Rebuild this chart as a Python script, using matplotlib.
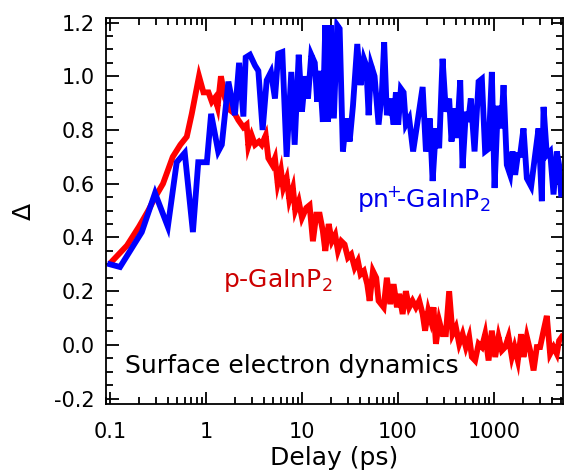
import matplotlib
matplotlib.use("Agg")
import matplotlib.pyplot as plt
import numpy as np
from matplotlib.ticker import FixedLocator, FixedFormatter, MultipleLocator, LogLocator, NullFormatter

plt.rcParams['font.family'] = ['DejaVu Sans']
plt.rcParams['axes.unicode_minus'] = False
plt.rcParams['mathtext.fontset'] = 'dejavusans'

# pn+-GaInP2 (blue), delay in ps and signal
delay_pn = [0.10, 0.127, 0.214, 0.294, 0.40, 0.495, 0.60, 0.73, 0.83, 1.02,
            1.13, 1.34, 1.46, 1.71, 2.0, 2.21, 2.45, 2.59, 2.87, 3.24,
            3.51, 3.89, 4.29, 4.75, 5.23, 5.66, 6.24, 6.92, 7.74, 8.39,
            9.25, 10.0, 10.8, 11.55, 12.5, 13.6, 14.4, 15.3, 16.5, 17.5,
            18.7, 19.9, 21.5, 23.3, 24.7, 26.7, 28.9, 31.4, 34.0, 37.7,
            40.8, 44.2, 46.8, 49.5, 52.7, 57.1, 62.9, 68.1, 71.9, 76.7,
            83.2, 90.2, 95.3, 100.7, 107.4, 114.6, 121, 131, 144, 160,
            181, 196, 215, 230, 249, 269, 292, 316, 342, 362,
            386, 412, 446, 472, 511, 540, 575, 629, 693, 750,
            811, 881, 953, 1017, 1101, 1192, 1262, 1365, 1479, 1567,
            1667, 1778, 1879, 2037, 2207, 2447, 2692, 2924, 3162, 3296,
            3565, 3855, 4188, 4530, 4786, 5023]
signal_pn = [0.30, 0.29, 0.42, 0.565, 0.44, 0.68, 0.715, 0.42, 0.68, 0.68,
             0.86, 0.72, 0.745, 0.98, 0.855, 1.05, 0.85, 1.07, 1.08, 1.04,
             1.02, 0.80, 0.985, 1.016, 0.917, 1.084, 1.09, 0.70, 1.016, 0.745,
             1.08, 0.868, 1.0, 0.917, 1.08, 1.05, 0.905, 1.02, 0.83, 1.19,
             0.83, 1.19, 0.843, 1.19, 1.177, 0.72, 0.843, 0.757, 0.89, 1.12,
             0.967, 1.065, 1.04, 0.855, 1.04, 1.0, 0.82, 0.94, 1.127, 0.855,
             0.917, 0.82, 0.94, 0.82, 0.954, 0.94, 0.82, 0.843, 0.72, 0.83,
             0.96, 0.72, 0.843, 0.61, 0.806, 0.732, 1.065, 0.868, 0.917, 0.757,
             0.88, 0.77, 0.985, 0.658, 0.868, 0.83, 0.917, 0.72, 0.98, 0.99,
             0.72, 0.73, 1.016, 0.584, 0.89, 0.806, 0.967, 0.67, 0.633, 0.72,
             0.633, 0.707, 0.707, 0.806, 0.62, 0.59, 0.707, 0.806, 0.535, 0.886,
             0.707, 0.72, 0.56, 0.72, 0.67, 0.56]

# p-GaInP2 (red)
delay_p = [0.104, 0.15, 0.20, 0.25, 0.295, 0.356, 0.45, 0.54, 0.63, 0.71,
           0.845, 0.94, 1.06, 1.15, 1.24, 1.32, 1.43, 1.58, 1.78, 2.0,
           2.17, 2.45, 2.65, 2.76, 2.99, 3.24, 3.56, 3.80, 4.19, 4.46,
           4.91, 5.23, 5.58, 6.04, 6.38, 6.93, 7.38, 8.05, 8.51, 9.25,
           10.0, 11.1, 12.0, 13.0, 14.1, 15.3, 16.5, 17.5, 19.0, 20.5,
           22.2, 23.7, 25.7, 27.8, 30.1, 32.6, 35.4, 38.3, 40.8, 44.2,
           47.9, 50.7, 54.9, 59.4, 62.9, 71.0, 76.7, 83.2, 90.2, 97.7,
           103, 112, 121, 131, 142, 154, 167, 181, 192, 207,
           221, 235, 249, 269, 292, 316, 342, 371, 402, 435,
           472, 511, 553, 590, 638, 693, 750, 811, 881, 953,
           1032, 1119, 1211, 1312, 1422, 1540, 1643, 1778, 1923, 2037,
           2207, 2388, 2594, 2805, 3034, 3296, 3565, 3855, 4188, 4530,
           4786, 5105]
signal_p = [0.31, 0.37, 0.44, 0.50, 0.55, 0.60, 0.70, 0.745, 0.775, 0.86,
            1.0, 0.94, 0.94, 0.905, 0.92, 0.886, 1.0, 0.917, 0.874, 0.86,
            0.837, 0.81, 0.82, 0.74, 0.78, 0.745, 0.757, 0.745, 0.78, 0.695,
            0.67, 0.695, 0.60, 0.65, 0.584, 0.62, 0.54, 0.585, 0.50, 0.535,
            0.473, 0.51, 0.52, 0.386, 0.485, 0.485, 0.424, 0.35, 0.45, 0.386,
            0.41, 0.35, 0.386, 0.374, 0.325, 0.337, 0.288, 0.312, 0.263, 0.275,
            0.226, 0.164, 0.275, 0.25, 0.164, 0.14, 0.25, 0.152, 0.226, 0.14,
            0.19, 0.115, 0.20, 0.14, 0.164, 0.14, 0.164, 0.115, 0.053, 0.127,
            0.09, 0.14, 0.004, 0.09, 0.04, 0.04, 0.20, 0.04, 0.066, 0.004,
            0.04, -0.008, 0.03, -0.045, -0.058, 0.004, -0.008, 0.04, -0.058, 0.053,
            -0.045, 0.03, -0.021, -0.008, 0.03, -0.045, -0.008, -0.058, 0.04, -0.045,
            0.03, -0.021, -0.095, -0.008, -0.008, 0.053, 0.108, -0.033, -0.008, -0.033,
            0.016, 0.03]

xticks = [0.1, 1, 10, 100, 1000]
xtick_labels = ['0.1', '1', '10', '100', '1000']

fig = plt.figure(figsize=(5.64, 4.72), dpi=100)
ax = fig.add_axes([0.1874, 0.144, 0.8106, 0.818])

ax.plot(delay_p, signal_p, color='#ff0000', lw=4.2, solid_joinstyle='miter')
ax.plot(delay_pn, signal_pn, color='#0000ff', lw=4.2, solid_joinstyle='miter')

ax.set_xscale('log')
ax.set_xlim(0.090, 5240)
ax.set_ylim(-0.22, 1.217)

ax.xaxis.set_major_locator(FixedLocator(xticks))
ax.xaxis.set_major_formatter(FixedFormatter(xtick_labels))
ax.xaxis.set_minor_locator(LogLocator(base=10, subs=np.arange(2, 10), numticks=20))
ax.xaxis.set_minor_formatter(NullFormatter())
ax.yaxis.set_major_locator(MultipleLocator(0.2))
ax.yaxis.set_minor_locator(MultipleLocator(0.05))
ax.yaxis.set_major_formatter(matplotlib.ticker.FormatStrFormatter('%.1f'))

ax.tick_params(which='both', direction='in', top=True, right=True, width=1.3, colors='black')
ax.tick_params(which='major', length=9, labelsize=15)
ax.tick_params(which='minor', length=5)
ax.tick_params(axis='x', which='major', pad=13)
ax.tick_params(axis='y', which='major', pad=8)
for s in ax.spines.values():
    s.set_linewidth(1.3)

ax.set_xlabel('Delay (ps)', fontsize=18, labelpad=3)
ax.set_ylabel('Δ', fontsize=18, labelpad=13)

ax.text(0.042, 0.080, 'Surface electron dynamics', transform=ax.transAxes,
        fontsize=18, color='black', va='baseline', ha='left')
ax.text(0.2565, 0.303, 'p-GaInP$_2$', transform=ax.transAxes,
        fontsize=18, color='#cc0000', va='baseline', ha='left')
ax.text(0.549, 0.510, r'pn$^{\!\!+\!\!\!}$-GaInP$_2$', transform=ax.transAxes,
        fontsize=18, color='#0000ee', va='baseline', ha='left')

fig.savefig('out.png', dpi=100)
